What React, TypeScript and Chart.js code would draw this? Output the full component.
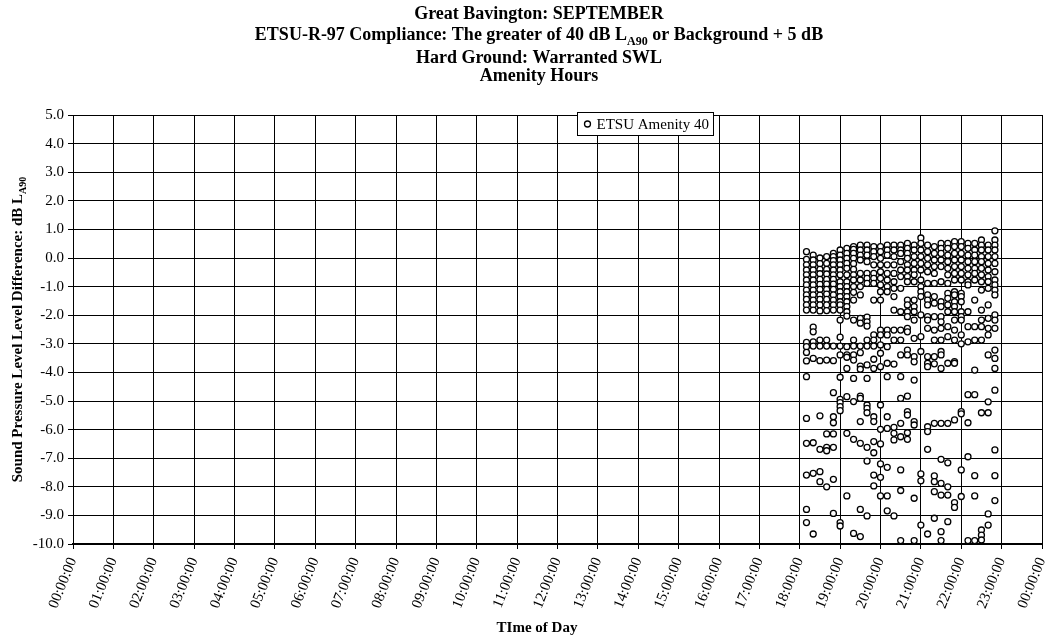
import React, { useEffect, useRef } from "react";
import { Chart, registerables } from "chart.js";

Chart.register(...registerables);

// ---------- data ----------
const seriesName = "ETSU Amenity 40";

const intervalTimes = [
  "18:10", "18:20", "18:30", "18:40", "18:50",
  "19:00", "19:10", "19:20", "19:30", "19:40", "19:50",
  "20:00", "20:10", "20:20", "20:30", "20:40", "20:50",
  "21:00", "21:10", "21:20", "21:30", "21:40", "21:50",
  "22:00", "22:10", "22:20", "22:30", "22:40", "22:50",
];

// level difference (dB) values recorded in each 10-minute interval over the month
const levelDiffs: number[][] = [
  [0.22, -0.05, -0.24, -0.42, -0.59, -0.77, -0.94, -1.12, -1.29, -1.45, -1.64, -1.82, -2.95, -3.1, -3.3, -3.6, -4.15, -5.61, -6.48, -7.59, -8.79, -9.25],
  [0.1, -0.07, -0.24, -0.42, -0.59, -0.77, -0.94, -1.12, -1.29, -1.47, -1.64, -1.82, -2.42, -2.58, -2.93, -3.08, -3.51, -6.46, -7.53, -9.65],
  [0.0, -0.2, -0.4, -0.55, -0.75, -0.92, -1.1, -1.3, -1.45, -1.64, -1.85, -2.87, -3.08, -3.59, -5.52, -6.69, -7.47, -7.82],
  [0.05, -0.19, -0.4, -0.56, -0.75, -0.91, -1.1, -1.26, -1.45, -1.64, -1.84, -2.87, -3.08, -3.57, -6.15, -6.62, -6.74, -8.0],
  [0.16, 0.05, -0.09, -0.24, -0.42, -0.59, -0.75, -0.91, -1.1, -1.29, -1.47, -1.64, -1.82, -3.08, -3.59, -4.71, -5.55, -5.76, -6.15, -6.62, -7.74, -8.93],
  [0.28, 0.1, -0.07, -0.24, -0.42, -0.59, -0.83, -1.0, -1.18, -1.35, -1.53, -1.64, -1.82, -2.17, -2.77, -3.08, -3.39, -4.17, -4.94, -5.06, -5.2, -5.34, -9.25, -9.37],
  [0.34, 0.16, -0.01, -0.19, -0.36, -0.59, -0.83, -1.0, -1.18, -1.35, -1.53, -1.7, -1.88, -2.03, -3.1, -3.39, -3.47, -3.86, -4.85, -6.13, -8.32],
  [0.4, 0.3, 0.16, -0.01, -0.2, -0.4, -0.59, -0.77, -1.0, -1.2, -1.47, -2.17, -2.87, -3.08, -3.39, -3.57, -4.21, -5.02, -6.34, -9.63],
  [0.45, 0.28, 0.1, -0.07, -0.54, -0.77, -1.0, -1.29, -2.11, -2.28, -3.08, -3.31, -3.78, -3.89, -4.83, -4.91, -5.72, -6.48, -8.79, -9.74],
  [0.45, 0.28, 0.1, -0.13, -0.54, -0.71, -0.89, -2.07, -2.23, -2.38, -2.87, -3.08, -3.74, -4.21, -5.14, -5.26, -5.41, -6.62, -7.1, -9.02],
  [0.4, 0.22, 0.05, -0.24, -0.54, -0.71, -0.89, -1.47, -2.69, -2.87, -3.08, -3.54, -3.86, -5.55, -5.72, -6.42, -6.81, -7.59, -7.97],
  [0.4, 0.22, -0.01, -0.24, -0.48, -0.71, -0.94, -1.18, -1.47, -2.52, -2.69, -3.04, -3.33, -3.8, -5.14, -5.99, -6.5, -7.2, -7.67, -8.32],
  [0.45, 0.28, 0.1, -0.24, -0.54, -0.77, -1.0, -1.18, -2.52, -2.69, -3.1, -3.68, -4.15, -5.55, -5.96, -7.32, -8.32, -8.84],
  [0.45, 0.28, 0.05, -0.24, -0.54, -0.83, -1.06, -1.35, -1.82, -2.52, -2.87, -3.71, -5.92, -6.13, -6.36, -9.02],
  [0.45, 0.28, 0.16, -0.13, -0.42, -0.65, -1.06, -1.88, -2.52, -2.87, -3.39, -4.15, -4.91, -5.78, -6.25, -7.41, -8.13, -9.88],
  [0.51, 0.34, 0.16, -0.01, -0.24, -0.42, -0.65, -0.83, -1.47, -1.64, -1.88, -2.05, -2.46, -2.58, -3.22, -3.39, -4.83, -5.37, -5.49, -6.11, -6.34],
  [0.45, 0.28, 0.05, -0.19, -0.42, -0.59, -0.83, -1.47, -1.7, -1.88, -2.17, -2.81, -3.45, -3.63, -4.27, -5.72, -5.84, -8.4, -9.88],
  [0.7, 0.51, 0.28, 0.05, -0.19, -0.42, -0.77, -1.0, -1.18, -1.35, -1.99, -2.75, -3.27, -7.55, -7.79, -9.34],
  [0.45, 0.22, -0.01, -0.24, -0.48, -0.89, -1.29, -1.47, -1.64, -2.05, -2.17, -2.46, -3.45, -3.68, -3.8, -5.9, -6.07, -6.69, -9.65],
  [0.4, 0.16, -0.07, -0.3, -0.54, -0.89, -1.35, -1.58, -2.05, -2.52, -2.87, -3.45, -3.7, -5.78, -7.62, -7.82, -8.17, -9.1],
  [0.51, 0.34, 0.16, -0.07, -0.3, -0.83, -1.53, -1.7, -2.05, -2.23, -2.46, -2.87, -3.27, -3.39, -3.86, -5.78, -7.04, -7.88, -8.29, -9.57, -9.88],
  [0.51, 0.34, 0.1, -0.13, -0.36, -0.59, -0.89, -1.24, -1.41, -1.64, -1.88, -2.4, -2.75, -3.68, -5.78, -7.16, -8.0, -8.29, -9.22],
  [0.57, 0.4, 0.16, -0.07, -0.3, -0.54, -0.77, -1.18, -1.29, -1.53, -1.7, -1.88, -2.17, -2.52, -2.87, -3.62, -3.68, -5.66, -8.55, -8.72],
  [0.57, 0.4, 0.16, -0.07, -0.3, -0.54, -0.77, -1.24, -1.35, -1.53, -1.88, -2.05, -2.17, -2.69, -3.0, -5.37, -5.45, -7.41, -8.34],
  [0.51, 0.34, 0.1, -0.13, -0.36, -0.59, -0.83, -0.94, -1.88, -2.4, -2.93, -4.78, -5.76, -6.95, -9.88],
  [0.51, 0.28, 0.1, -0.13, -0.36, -0.54, -0.77, -1.47, -2.4, -2.87, -3.92, -4.78, -7.61, -8.32, -9.88],
  [0.63, 0.45, 0.28, 0.05, -0.13, -0.36, -0.59, -0.83, -1.12, -1.82, -2.17, -2.4, -2.87, -5.41, -9.51, -9.69, -9.86],
  [0.45, 0.28, 0.05, -0.19, -0.42, -0.65, -0.83, -1.06, -1.64, -2.11, -2.46, -2.69, -3.39, -5.03, -5.41, -8.95, -9.34],
  [0.95, 0.63, 0.45, 0.28, 0.05, -0.19, -0.48, -0.77, -0.94, -1.12, -1.29, -1.99, -2.17, -2.46, -3.22, -3.51, -3.86, -4.62, -6.71, -7.61, -8.48],
];

const hourTickLabels = [
  "00:00:00", "01:00:00", "02:00:00", "03:00:00", "04:00:00", "05:00:00",
  "06:00:00", "07:00:00", "08:00:00", "09:00:00", "10:00:00", "11:00:00",
  "12:00:00", "13:00:00", "14:00:00", "15:00:00", "16:00:00", "17:00:00",
  "18:00:00", "19:00:00", "20:00:00", "21:00:00", "22:00:00", "23:00:00",
  "00:00:00",
];

const yMin = -10;
const yMax = 5;

type Seg = { t: string; sub?: boolean };
const titleLines: Seg[][] = [
  [{ t: "Great Bavington: SEPTEMBER" }],
  [{ t: "ETSU-R-97 Compliance: The greater of 40 dB L" }, { t: "A90", sub: true }, { t: " or Background + 5 dB" }],
  [{ t: "Hard Ground: Warranted SWL" }],
  [{ t: "Amenity Hours" }],
];
const yAxisTitle: Seg[] = [{ t: "Sound Pressure Level Level Difference: dB L" }, { t: "A90", sub: true }];
const xAxisTitle: Seg[] = [{ t: "TIme of Day" }];

// ---------- styling ----------
const FONT = "'Liberation Serif', 'Times New Roman', Times, serif";
const TITLE_SIZE = 18;
const AXIS_TITLE_SIZE = 15;
const TICK_SIZE = 15;

function toHours(t: string): number {
  const [h, m] = t.split(":").map(Number);
  return h + m / 60;
}

function drawRich(ctx: CanvasRenderingContext2D, segs: Seg[], cx: number, baseline: number, size: number, bold: boolean) {
  const w = bold ? "bold " : "";
  const subSize = Math.round(size * 0.66);
  let total = 0;
  for (const s of segs) {
    ctx.font = `${w}${s.sub ? subSize : size}px ${FONT}`;
    total += ctx.measureText(s.t).width;
  }
  let x = cx - total / 2;
  for (const s of segs) {
    ctx.font = `${w}${s.sub ? subSize : size}px ${FONT}`;
    ctx.fillText(s.t, x, baseline + (s.sub ? size * 0.28 : 0));
    x += ctx.measureText(s.t).width;
  }
}

const overlayPlugin = {
  id: "overlayText",
  afterDraw(chart: any) {
    const ctx: CanvasRenderingContext2D = chart.ctx;
    const area = chart.chartArea;
    ctx.save();
    ctx.fillStyle = "#000";
    ctx.textAlign = "left";
    ctx.textBaseline = "alphabetic";
    const titleBaselines = [19, 40, 63, 81];
    titleLines.forEach((line, i) => drawRich(ctx, line, 539, titleBaselines[i], TITLE_SIZE, true));

    // x axis title
    drawRich(ctx, xAxisTitle, 537, 632, AXIS_TITLE_SIZE, true);

    // y axis title (rotated)
    ctx.save();
    ctx.translate(22, (area.top + area.bottom) / 2);
    ctx.rotate(-Math.PI / 2);
    drawRich(ctx, yAxisTitle, 0, 0, AXIS_TITLE_SIZE, true);
    ctx.restore();

    // legend box
    const lx = 577.5, ly = 112.5, lw = 136, lh = 23;
    ctx.fillStyle = "#fff";
    ctx.fillRect(lx, ly, lw, lh);
    ctx.strokeStyle = "#000";
    ctx.lineWidth = 1;
    ctx.strokeRect(lx, ly, lw, lh);
    ctx.beginPath();
    ctx.arc(lx + 10, ly + lh / 2, 3, 0, Math.PI * 2);
    ctx.fillStyle = "#fff";
    ctx.fill();
    ctx.lineWidth = 1.3;
    ctx.stroke();
    ctx.fillStyle = "#000";
    ctx.font = `${TICK_SIZE}px ${FONT}`;
    ctx.textBaseline = "middle";
    ctx.fillText(seriesName, lx + 19, ly + lh / 2 + 1);
    ctx.restore();
  },
};

export default function App() {
  const canvasRef = useRef<HTMLCanvasElement | null>(null);

  useEffect(() => {
    const points = intervalTimes.flatMap((t, i) =>
      levelDiffs[i].map((v) => ({ x: toHours(t), y: v }))
    );

    const chart = new Chart(canvasRef.current as HTMLCanvasElement, {
      type: "scatter",
      data: {
        datasets: [
          {
            label: seriesName,
            data: points,
            pointStyle: "circle",
            pointRadius: 3,
            pointBorderWidth: 1.3,
            pointBorderColor: "#000",
            pointBackgroundColor: "#fff",
            showLine: false,
          },
        ],
      },
      options: {
        animation: false,
        responsive: false,
        devicePixelRatio: 1,
        layout: { padding: { top: 115, right: 8, left: 0, bottom: 0 } },
        plugins: {
          legend: { display: false },
          title: { display: false },
          tooltip: { enabled: false },
        },
        scales: {
          x: {
            type: "linear",
            min: 0,
            max: 24,
            afterBuildTicks: (scale: any) => {
              scale.ticks = hourTickLabels.map((_, i) => ({ value: i }));
            },
            ticks: {
              autoSkip: false,
              maxRotation: 68,
              minRotation: 68,
              padding: 6,
              color: "#000",
              font: { family: FONT, size: TICK_SIZE },
              callback: (v: any) => hourTickLabels[Number(v)] ?? "",
            },
            grid: { color: "#000", lineWidth: 1, tickLength: 5, drawTicks: true },
            border: { color: "#000", width: 2 },
            afterFit: (scale: any) => {
              scale.height = 97;
              scale.paddingLeft = 0;
              scale.paddingRight = 0;
            },
          },
          y: {
            type: "linear",
            min: yMin,
            max: yMax,
            ticks: {
              stepSize: 1,
              padding: 4,
              color: "#000",
              font: { family: FONT, size: TICK_SIZE },
              callback: (v: any) => Number(v).toFixed(1),
            },
            grid: { color: "#000", lineWidth: 1, tickLength: 5, drawTicks: true },
            border: { color: "#000", width: 1 },
            afterFit: (scale: any) => {
              scale.width = 73;
              scale.paddingTop = 0;
              scale.paddingBottom = 0;
            },
          },
        },
      },
      plugins: [overlayPlugin],
    } as any);

    return () => chart.destroy();
  }, []);

  return (
    <div style={{ position: "absolute", left: 0, top: 0, width: 1050, height: 641, background: "#fff" }}>
      <canvas ref={canvasRef} width={1050} height={641} style={{ display: "block", width: 1050, height: 641 }} />
    </div>
  );
}
